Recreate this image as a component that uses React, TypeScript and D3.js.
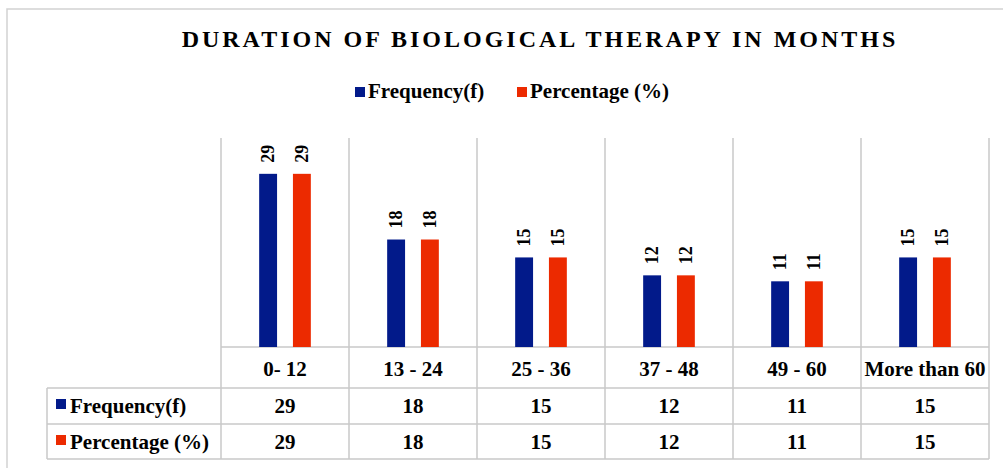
import React from "react";
import * as d3 from "d3";

// chart values
const categories = ["0- 12", "13 - 24", "25 - 36", "37 - 48", "49 - 60", "More than 60"];
const seriesNames = ["Frequency(f)", "Percentage (%)"];
const frequency = [29, 18, 15, 12, 11, 15];
const percentage = [29, 18, 15, 12, 11, 15];
const seriesColors = ["#021a8a", "#ec2a00"];

const W = 1003;
const H = 468;
const FONT = "'Liberation Serif', 'Times New Roman', serif";
const GRID = "#c9c9c9";

const App = () => {
  const values = [frequency, percentage];

  const plotLeft = 221;
  const plotRight = 989;
  const plotTop = 138;
  const baseY = 347;
  const catRowBottom = 388;
  const row1Bottom = 424;
  const row2Bottom = 459;
  const tableLeft = 47;

  const x0 = d3.scaleBand<string>().domain(categories).range([plotLeft, plotRight]);
  const x1 = d3
    .scaleBand<string>()
    .domain(seriesNames)
    .range([0, x0.bandwidth()])
    .paddingInner(0.47)
    .paddingOuter(1.13);
  const y = d3.scaleLinear().domain([0, 35]).range([baseY, plotTop]);

  const cx = (c: string) => (x0(c) as number) + x0.bandwidth() / 2;
  const gridXs = [...categories.map((c) => x0(c) as number), plotRight];

  return (
    <svg
      width={W}
      height={H}
      style={{ position: "absolute", left: 0, top: 0, background: "#fff" }}
      fontFamily={FONT}
      fontWeight="bold"
    >
      {/* outer chart border */}
      <rect x={7} y={9} width={W} height={H} fill="none" stroke="#d2d2d2" strokeWidth={1.5} />

      <text x={540} y={47} textAnchor="middle" fontSize={24} letterSpacing={3} fill="#000">
        DURATION OF BIOLOGICAL THERAPY IN MONTHS
      </text>

      {/* legend */}
      {seriesNames.map((s, i) => {
        const lx = i === 0 ? 355 : 517;
        return (
          <g key={s}>
            <rect x={lx} y={87} width={10} height={10} fill={seriesColors[i]} />
            <text x={lx + 13} y={98} fontSize={21} fill="#000">
              {s}
            </text>
          </g>
        );
      })}

      {/* vertical grid lines through plot and table */}
      {gridXs.map((gx, i) => (
        <line key={i} x1={gx} x2={gx} y1={plotTop} y2={row2Bottom} stroke={GRID} strokeWidth={1.5} />
      ))}
      <line x1={tableLeft} x2={tableLeft} y1={catRowBottom} y2={row2Bottom} stroke={GRID} strokeWidth={1.5} />
      <line x1={plotLeft} x2={plotRight} y1={baseY} y2={baseY} stroke={GRID} strokeWidth={1.5} />
      {[catRowBottom, row1Bottom, row2Bottom].map((ly) => (
        <line key={ly} x1={tableLeft} x2={plotRight} y1={ly} y2={ly} stroke={GRID} strokeWidth={1.5} />
      ))}

      {/* bars and rotated value labels */}
      {categories.map((c, ci) => (
        <g key={c} transform={`translate(${x0(c)},0)`}>
          {seriesNames.map((s, si) => {
            const v = values[si][ci];
            const bx = x1(s) as number;
            const bw = x1.bandwidth();
            const ty = y(v) - 11;
            return (
              <g key={s}>
                <rect x={bx} y={y(v)} width={bw} height={baseY - y(v)} fill={seriesColors[si]} />
                <text
                  transform={`translate(${bx + bw / 2},${ty}) rotate(-90)`}
                  dominantBaseline="central"
                  fontSize={18}
                  fill="#000"
                >
                  {v}
                </text>
              </g>
            );
          })}
        </g>
      ))}

      {/* category labels */}
      {categories.map((c) => (
        <text key={c} x={cx(c)} y={376} textAnchor="middle" fontSize={21} fill="#000">
          {c}
        </text>
      ))}

      {/* data table */}
      {seriesNames.map((s, si) => {
        const baseline = si === 0 ? 413 : 449;
        return (
          <g key={s}>
            <rect x={56} y={baseline - 14} width={10} height={10} fill={seriesColors[si]} />
            <text x={70} y={baseline} fontSize={21} fill="#000">
              {s}
            </text>
            {categories.map((c, ci) => (
              <text key={c} x={cx(c)} y={baseline} textAnchor="middle" fontSize={21} fill="#000">
                {values[si][ci]}
              </text>
            ))}
          </g>
        );
      })}
    </svg>
  );
};

export default App;
